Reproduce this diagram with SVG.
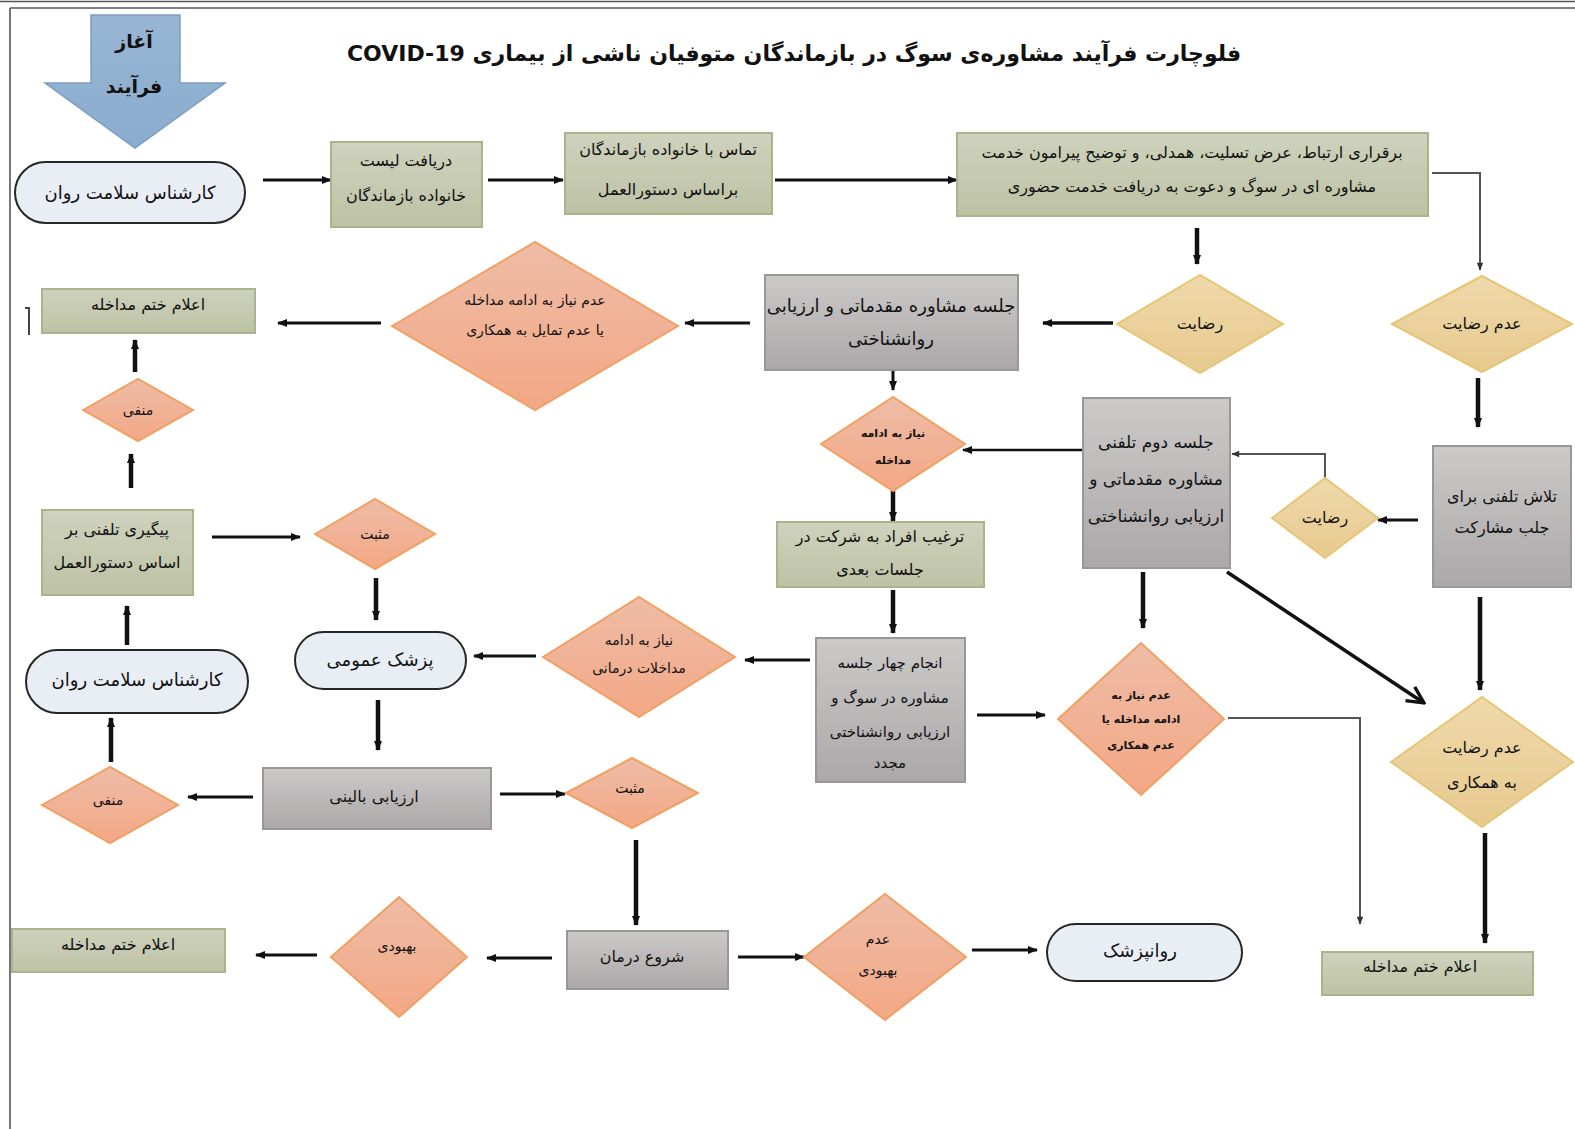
<svg xmlns="http://www.w3.org/2000/svg" width="1575" height="1129" viewBox="0 0 1575 1129">
<style>
.t{font-family:"DejaVu Sans","Noto Sans",sans-serif;font-size:16px;fill:#111;text-anchor:middle;direction:rtl}
.s{font-size:14px}
.xs{font-size:11px;font-weight:bold}
.l{font-size:18px}
.b{font-weight:bold}
.ol{fill:url(#gOl);stroke:#a9b48a;stroke-width:2}
.gr{fill:url(#gGr);stroke:#9b9798;stroke-width:2}
.sa{fill:url(#gSa);stroke:#f0a062;stroke-width:2}
.ye{fill:url(#gYe);stroke:#e6c674;stroke-width:2}
.st{fill:#e9eef5;stroke:#262626;stroke-width:2}
.c{fill:none;stroke:#111;stroke-width:3;marker-end:url(#ah)}
.k{stroke-width:4.5}
.g{fill:none;stroke:#555;stroke-width:2;marker-end:url(#ag)}
.frame{fill:none;stroke:#555;stroke-width:1.6}
</style>
<defs>
<linearGradient id="gOl" x1="0" y1="0" x2="0" y2="1"><stop offset="0" stop-color="#cfd2bd"/><stop offset="1" stop-color="#bdc2a5"/></linearGradient>
<linearGradient id="gGr" x1="0" y1="0" x2="0" y2="1"><stop offset="0" stop-color="#ccc9c9"/><stop offset="1" stop-color="#aca8a9"/></linearGradient>
<linearGradient id="gSa" x1="0" y1="0" x2="0" y2="1"><stop offset="0" stop-color="#eebca6"/><stop offset="1" stop-color="#f3a885"/></linearGradient>
<linearGradient id="gYe" x1="0" y1="0" x2="0" y2="1"><stop offset="0" stop-color="#efd9ab"/><stop offset="1" stop-color="#e7c98e"/></linearGradient>
<linearGradient id="gBl" x1="0" y1="0" x2="0" y2="1"><stop offset="0" stop-color="#98b6d4"/><stop offset="1" stop-color="#8aacce"/></linearGradient>
<marker id="ah" viewBox="0 0 10 10" refX="9" refY="5" markerWidth="11" markerHeight="10" markerUnits="userSpaceOnUse" orient="auto"><path d="M0,1 L10,5 L0,9 z" fill="#111"/></marker>
<marker id="ag" viewBox="0 0 10 10" refX="9" refY="5" markerWidth="9" markerHeight="8" markerUnits="userSpaceOnUse" orient="auto"><path d="M0,1 L10,5 L0,9 z" fill="#333"/></marker>
<marker id="ao" viewBox="0 0 12 12" refX="11" refY="6" markerWidth="20" markerHeight="20" markerUnits="userSpaceOnUse" orient="auto"><path d="M1,1 L11,6 L1,11" fill="none" stroke="#111" stroke-width="2"/></marker>
</defs>
<rect width="1575" height="1129" fill="#fff"/>
<g id="frame">
<line class="frame" x1="0" y1="1.5" x2="1575" y2="1.5"/>
<line class="frame" x1="10" y1="8" x2="1575" y2="8"/>
<line class="frame" x1="10" y1="8" x2="10" y2="1129" stroke-width="2.2"/>
<path d="M25,308 L29,308 L29,335" fill="none" stroke="#444" stroke-width="2"/>
</g>
<text id="title" class="t b" x="794" y="61" style="font-size:22px">فلوچارت فرآیند مشاوره‌ی سوگ در بازماندگان متوفیان ناشی از بیماری COVID-19</text>
<g id="start"><polygon points="91,15 180,15 180,83 225,83 135,148 45,83 91,83" fill="url(#gBl)" stroke="#7c9dc1" stroke-width="1.5"/><text class="t b" x="134" y="48" style="font-size:19px">آغاز</text><text class="t b" x="134" y="93" style="font-size:19px">فرآیند</text></g>
<g id="connectors">
<path class="c" d="M263,180 L331,180"/>
<path class="c" d="M488,180 L563,180"/>
<path class="c" d="M775,180 L957,180"/>
<path class="c k" d="M1197,228 L1197,264"/>
<path class="g" d="M1432,173 L1480,173 L1480,270"/>
<path class="c" d="M1113,323 L1043,323" style="stroke-width:3.5"/>
<path class="c" d="M750,323 L685,323"/>
<path class="c" d="M381,323 L278,323"/>
<path class="c k" d="M135,372 L135,340"/>
<path class="c k" d="M131,488 L131,454"/>
<path class="c" d="M212,537 L300,537"/>
<path class="c k" d="M376,578 L376,620"/>
<path class="c" d="M893,371 L893,390"/>
<path class="c" d="M1083,450 L963,450" style="stroke-width:2.5"/>
<path class="c k" d="M893,491 L893,521"/>
<path class="c k" d="M893,590 L893,633"/>
<path class="c" d="M810,660 L745,660"/>
<path class="c" d="M536,656 L474,656"/>
<path class="c k" d="M127,645 L127,606"/>
<path class="c k" d="M111,762 L111,718"/>
<path class="c k" d="M378,700 L378,750"/>
<path class="c" d="M253,797 L188,797"/>
<path class="c" d="M500,794 L565,794"/>
<path class="c k" d="M636,840 L636,925"/>
<path class="c" d="M552,958 L487,958"/>
<path class="c" d="M317,955 L256,955"/>
<path class="c" d="M738,957 L804,957"/>
<path class="c" d="M972,950 L1037,950"/>
<path class="c" d="M977,715 L1045,715"/>
<path class="g" d="M1228,718 L1360,718 L1360,924"/>
<path class="c k" d="M1143,572 L1143,628"/>
<path d="M1227,572 L1424,703" fill="none" stroke="#111" stroke-width="3.5" marker-end="url(#ao)"/>
<path class="c" d="M1418,520 L1378,520"/>
<path class="g" d="M1325,478 L1325,454 L1232,454"/>
<path class="c k" d="M1478,378 L1478,427"/>
<path class="c k" d="M1480,597 L1480,690"/>
<path class="c k" d="M1485,833 L1485,943"/>
</g>
<g id="n_expert1"><rect class="st" x="15" y="162" width="230" height="61" rx="30.5"/><text class="t l" x="130" y="199">کارشناس سلامت روان</text></g>
<g id="n_list"><rect class="ol" x="331" y="142" width="151" height="85"/><text class="t" x="406" y="166">دریافت لیست</text><text class="t" x="406" y="201">خانواده بازماندگان</text></g>
<g id="n_contact"><rect class="ol" x="565" y="133" width="207" height="81"/><text class="t" x="668" y="155">تماس با خانواده بازماندگان</text><text class="t" x="668" y="195">براساس دستورالعمل</text></g>
<g id="n_connect"><rect class="ol" x="957" y="133" width="471" height="83"/><text class="t" x="1192" y="158">برقراری ارتباط، عرض تسلیت، همدلی، و توضیح پیرامون خدمت</text><text class="t" x="1192" y="192">مشاوره ای در سوگ و  دعوت به دریافت خدمت حضوری</text></g>
<g id="d_consent1"><polygon class="ye" points="1117,324 1200,275 1283,324 1200,373"/><text class="t" x="1200" y="329">رضایت</text></g>
<g id="d_noconsent1"><polygon class="ye" points="1392,324 1482,276 1572,324 1482,372"/><text class="t" x="1482" y="329">عدم رضایت</text></g>
<g id="n_session1"><rect class="gr" x="765" y="275" width="253" height="95"/><text class="t l" x="891" y="312">جلسه مشاوره مقدماتی و ارزیابی</text><text class="t l" x="891" y="345">روانشناختی</text></g>
<g id="d_noneed1"><polygon class="sa" points="392,326 535,242 678,326 535,410"/><text class="t s" x="535" y="305">عدم نیاز به ادامه مداخله</text><text class="t s" x="535" y="335">یا عدم تمایل به همکاری</text></g>
<g id="n_end1"><rect class="ol" x="42" y="289" width="213" height="44"/><text class="t" x="148" y="310">اعلام ختم مداخله</text></g>
<g id="d_neg1"><polygon class="sa" points="83,410 138,379 193,410 138,441"/><text class="t s" x="138" y="415">منفی</text></g>
<g id="n_followup"><rect class="ol" x="42" y="510" width="151" height="85"/><text class="t" x="117" y="535">پیگیری تلفنی بر</text><text class="t" x="117" y="568">اساس دستورالعمل</text></g>
<g id="d_pos1"><polygon class="sa" points="315,534 375,499 435,534 375,569"/><text class="t s" x="375" y="539">مثبت</text></g>
<g id="n_gp"><rect class="st" x="295" y="632" width="171" height="57" rx="28.5"/><text class="t l" x="380" y="666">پزشک عمومی</text></g>
<g id="d_need_small"><polygon class="sa" points="821,444 893,397 965,444 893,491"/><text class="t xs" x="893" y="437">نیاز به ادامه</text><text class="t xs" x="893" y="464">مداخله</text></g>
<g id="n_encourage"><rect class="ol" x="777" y="522" width="207" height="65"/><text class="t" x="880" y="542">ترغیب افراد به شرکت در</text><text class="t" x="880" y="575">جلسات بعدی</text></g>
<g id="n_session2"><rect class="gr" x="1083" y="398" width="147" height="170"/><text class="t" x="1156" y="448" style="font-size:17px">جلسه دوم تلفنی</text><text class="t" x="1156" y="485" style="font-size:17px">مشاوره مقدماتی و</text><text class="t" x="1156" y="522" style="font-size:17px">ارزیابی روانشناختی</text></g>
<g id="d_consent2"><polygon class="ye" points="1272,518 1325,478 1378,518 1325,558"/><text class="t" x="1325" y="523">رضایت</text></g>
<g id="n_phone"><rect class="gr" x="1433" y="446" width="138" height="141"/><text class="t" x="1502" y="502">تلاش تلفنی برای</text><text class="t" x="1502" y="533">جلب مشارکت</text></g>
<g id="d_need_therapy"><polygon class="sa" points="543,657 639,597 735,657 639,717"/><text class="t s" x="639" y="645">نیاز به ادامه</text><text class="t s" x="639" y="673">مداخلات درمانی</text></g>
<g id="n_four"><rect class="gr" x="816" y="638" width="149" height="144"/><text class="t" x="890" y="668" style="font-size:15px">انجام چهار جلسه</text><text class="t" x="890" y="703" style="font-size:15px">مشاوره در سوگ و</text><text class="t" x="890" y="737" style="font-size:15px">ارزیابی روانشناختی</text><text class="t" x="890" y="768" style="font-size:15px">مجدد</text></g>
<g id="d_noneed2"><polygon class="sa" points="1058,719 1141,643 1224,719 1141,795"/><text class="t xs" x="1141" y="699">عدم نیاز به</text><text class="t xs" x="1141" y="723">ادامه مداخله یا</text><text class="t xs" x="1141" y="749">عدم همکاری</text></g>
<g id="d_noconsent2"><polygon class="ye" points="1391,762 1482,697 1573,762 1482,827"/><text class="t" x="1482" y="753">عدم رضایت</text><text class="t" x="1482" y="788">به همکاری</text></g>
<g id="n_end3"><rect class="ol" x="1322" y="952" width="211" height="43"/><text class="t" x="1420" y="972">اعلام ختم مداخله</text></g>
<g id="n_expert2"><rect class="st" x="26" y="650" width="222" height="63" rx="31.5"/><text class="t l" x="137" y="686">کارشناس سلامت روان</text></g>
<g id="d_neg2"><polygon class="sa" points="42,805 110,767 178,805 110,843"/><text class="t s" x="108" y="805">منفی</text></g>
<g id="n_clinical"><rect class="gr" x="263" y="768" width="228" height="61"/><text class="t" x="374" y="802">ارزیابی بالینی</text></g>
<g id="d_pos2"><polygon class="sa" points="566,793 632,758 698,793 632,828"/><text class="t s" x="630" y="793">مثبت</text></g>
<g id="n_treat"><rect class="gr" x="567" y="931" width="161" height="58"/><text class="t" x="642" y="962">شروع درمان</text></g>
<g id="d_improve"><polygon class="sa" points="331,957 399,897 467,957 399,1017"/><text class="t s" x="397" y="951">بهبودی</text></g>
<g id="n_end2"><rect class="ol" x="12" y="929" width="213" height="43"/><text class="t" x="118" y="950">اعلام ختم مداخله</text></g>
<g id="d_noimprove"><polygon class="sa" points="804,957 885,894 966,957 885,1020"/><text class="t s" x="878" y="944">عدم</text><text class="t s" x="878" y="975">بهبودی</text></g>
<g id="n_psych"><rect class="st" x="1047" y="924" width="195" height="57" rx="28.5"/><text class="t l" x="1140" y="957">روانپزشک</text></g>
</svg>
